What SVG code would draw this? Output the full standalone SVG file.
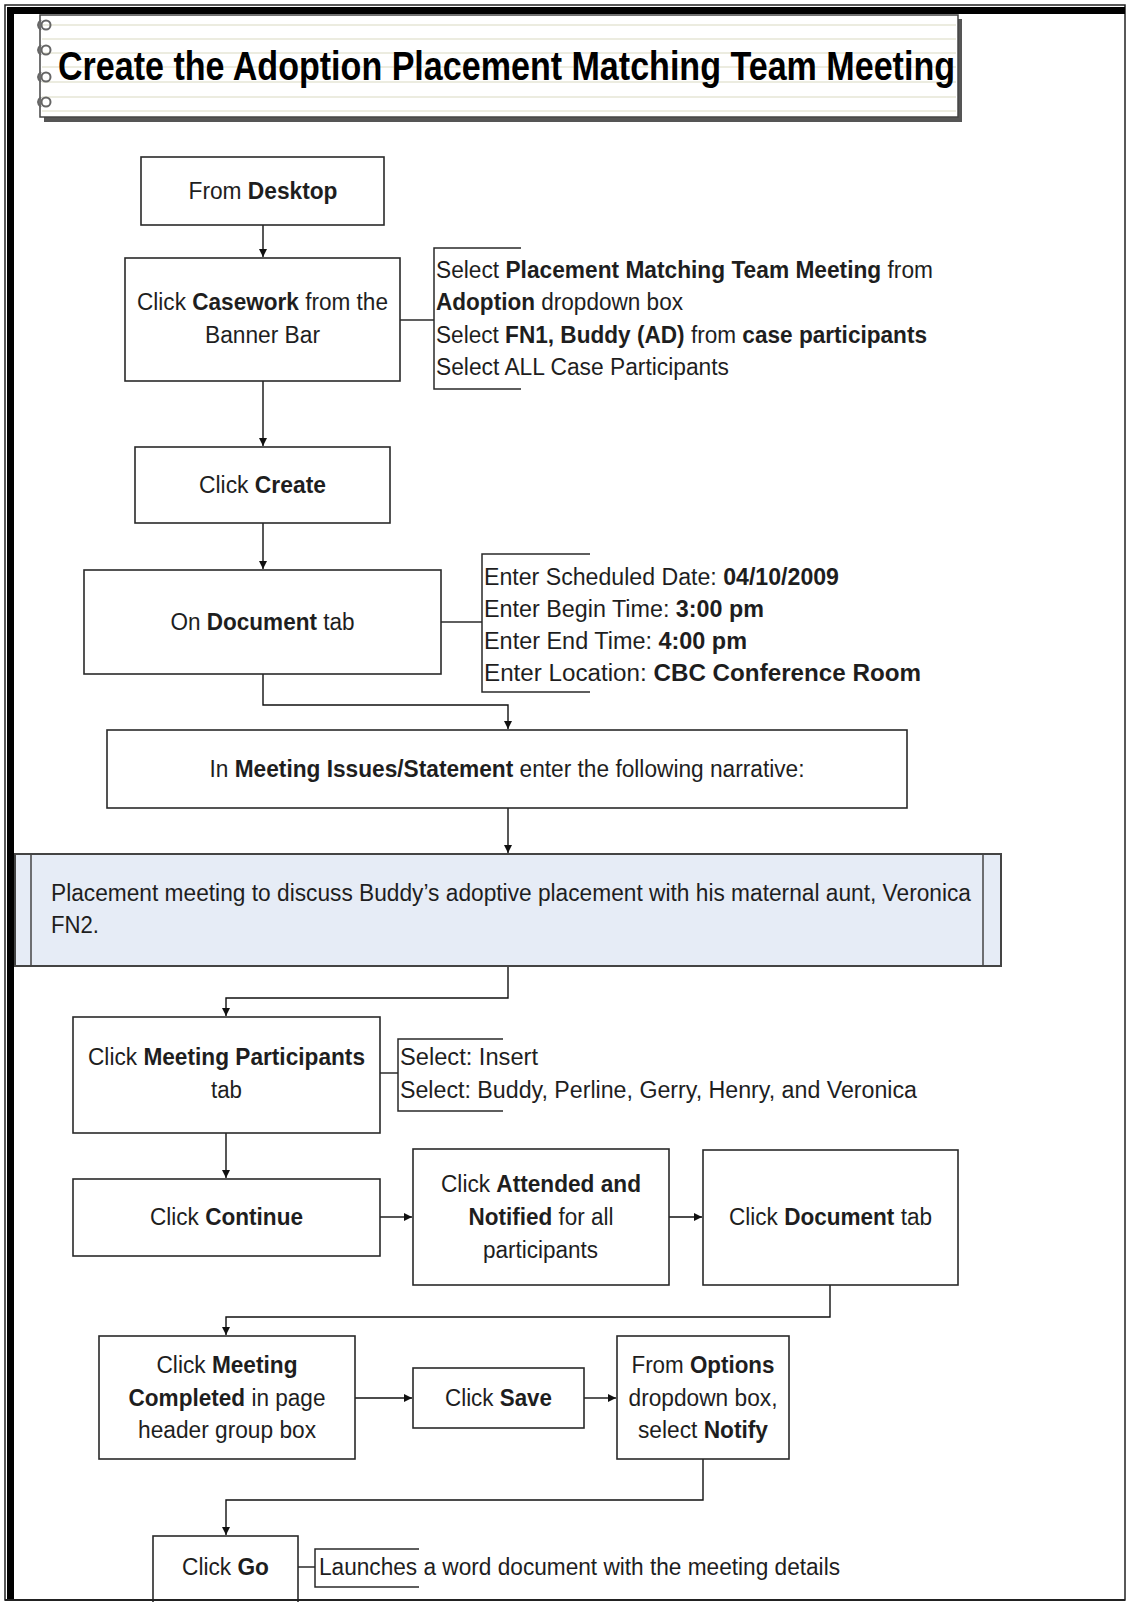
<svg xmlns="http://www.w3.org/2000/svg" width="1128" height="1602" viewBox="0 0 1128 1602">
<defs>
<style>
.box{fill:#fff;stroke:#2a2a2a;stroke-width:1.6}
.t{font-family:"Liberation Sans",Arial,sans-serif;font-size:23px;fill:#1e1e1e}
.b{font-weight:bold}
.c{fill:none;stroke:#111;stroke-width:1.4}
.br{fill:none;stroke:#2a2a2a;stroke-width:1.5}
.pl{stroke:#e6e6d6;stroke-width:1.5}
.ring{fill:none;stroke:#666;stroke-width:2}
</style>
<marker id="ah" viewBox="0 0 10 10" refX="10" refY="5" markerWidth="8" markerHeight="8" markerUnits="userSpaceOnUse" orient="auto">
<path d="M0,0 L10,5 L0,10 z" fill="#111"/>
</marker>
</defs>
<rect x="0" y="0" width="1128" height="1602" fill="#fff"/>
<g id="frame">
<rect x="5" y="5" width="1120" height="1595" fill="none" stroke="#222" stroke-width="1.5"/>
<rect x="7" y="7" width="1118" height="7" fill="#000"/>
<rect x="7" y="7" width="7" height="1593" fill="#000"/>
</g>
<g id="title">
<rect x="44" y="19" width="918" height="103" fill="#555"/>
<rect x="40" y="15" width="918" height="102" fill="#fff" stroke="#444" stroke-width="1.5"/>
<line class="pl" x1="42" y1="25" x2="956" y2="25"/>
<line class="pl" x1="42" y1="39" x2="956" y2="39"/>
<line class="pl" x1="42" y1="53" x2="956" y2="53"/>
<line class="pl" x1="42" y1="67" x2="956" y2="67"/>
<line class="pl" x1="42" y1="82" x2="956" y2="82"/>
<line class="pl" x1="42" y1="97" x2="956" y2="97"/>
<line class="pl" x1="42" y1="111" x2="956" y2="111"/>
<g class="ring">
<circle cx="46" cy="25" r="4.5"/><path d="M41,20 Q35,25 41,30"/>
<circle cx="46" cy="50" r="4.5"/><path d="M41,45 Q35,50 41,55"/>
<circle cx="46" cy="77" r="4.5"/><path d="M41,72 Q35,77 41,82"/>
<circle cx="46" cy="102" r="4.5"/><path d="M41,97 Q35,102 41,107"/>
</g>
<text x="58" y="80" font-family="Liberation Sans,Arial,sans-serif" font-size="41" font-weight="bold" fill="#000" textLength="897" lengthAdjust="spacingAndGlyphs">Create the Adoption Placement Matching Team Meeting</text>
</g>
<g id="connectors">
<path class="c" d="M263,225 V257" marker-end="url(#ah)"/>
<path class="c" d="M263,381 V446" marker-end="url(#ah)"/>
<path class="c" d="M263,523 V569" marker-end="url(#ah)"/>
<path class="c" d="M263,674 V705 H508 V729" marker-end="url(#ah)"/>
<path class="c" d="M508,808 V853" marker-end="url(#ah)"/>
<path class="c" d="M508,966 V998 H226 V1016" marker-end="url(#ah)"/>
<path class="c" d="M226,1133 V1178" marker-end="url(#ah)"/>
<path class="c" d="M380,1217 H412" marker-end="url(#ah)"/>
<path class="c" d="M669,1217 H702" marker-end="url(#ah)"/>
<path class="c" d="M830,1285 V1317 H226 V1335" marker-end="url(#ah)"/>
<path class="c" d="M355,1398 H412" marker-end="url(#ah)"/>
<path class="c" d="M584,1398 H616" marker-end="url(#ah)"/>
<path class="c" d="M703,1459 V1500 H226 V1535" marker-end="url(#ah)"/>
<path class="br" d="M400,320 H434"/>
<path class="br" d="M441,622 H482"/>
<path class="br" d="M380,1073 H398"/>
<path class="br" d="M298,1567 H315"/>
</g>
<g id="n1">
<rect class="box" x="141" y="157" width="243" height="68"/>
<text class="t" x="188.5" y="199" textLength="149" lengthAdjust="spacingAndGlyphs">From <tspan class="b">Desktop</tspan></text>
</g>
<g id="n2">
<rect class="box" x="125" y="258" width="275" height="123"/>
<text class="t" x="137" y="310" textLength="251" lengthAdjust="spacingAndGlyphs">Click <tspan class="b">Casework</tspan> from the</text>
<text class="t" x="205" y="343" textLength="115" lengthAdjust="spacingAndGlyphs">Banner Bar</text>
</g>
<g id="note1">
<path class="br" d="M521,248 H434 V389 H521"/>
<text class="t" x="436" y="278" textLength="497" lengthAdjust="spacingAndGlyphs">Select <tspan class="b">Placement Matching Team Meeting</tspan> from</text>
<text class="t" x="436" y="310" textLength="247" lengthAdjust="spacingAndGlyphs"><tspan class="b">Adoption</tspan> dropdown box</text>
<text class="t" x="436" y="343" textLength="491" lengthAdjust="spacingAndGlyphs">Select <tspan class="b">FN1, Buddy (AD)</tspan> from <tspan class="b">case participants</tspan></text>
<text class="t" x="436" y="375" textLength="293" lengthAdjust="spacingAndGlyphs">Select ALL Case Participants</text>
</g>
<g id="n3">
<rect class="box" x="135" y="447" width="255" height="76"/>
<text class="t" x="199" y="493" textLength="127" lengthAdjust="spacingAndGlyphs">Click <tspan class="b">Create</tspan></text>
</g>
<g id="n4">
<rect class="box" x="84" y="570" width="357" height="104"/>
<text class="t" x="170.5" y="630" textLength="184" lengthAdjust="spacingAndGlyphs">On <tspan class="b">Document</tspan> tab</text>
</g>
<g id="note2">
<path class="br" d="M590,554 H482 V692 H590"/>
<text class="t" x="484" y="585" textLength="355" lengthAdjust="spacingAndGlyphs">Enter Scheduled Date:  <tspan class="b">04/10/2009</tspan></text>
<text class="t" x="484" y="617" textLength="280" lengthAdjust="spacingAndGlyphs">Enter Begin Time:  <tspan class="b">3:00 pm</tspan></text>
<text class="t" x="484" y="649" textLength="263" lengthAdjust="spacingAndGlyphs">Enter End Time:  <tspan class="b">4:00 pm</tspan></text>
<text class="t" x="484" y="681" textLength="437" lengthAdjust="spacingAndGlyphs">Enter Location:  <tspan class="b">CBC Conference Room</tspan></text>
</g>
<g id="n5">
<rect class="box" x="107" y="730" width="800" height="78"/>
<text class="t" x="209.5" y="777" textLength="595" lengthAdjust="spacingAndGlyphs">In <tspan class="b">Meeting Issues/Statement</tspan> enter the following narrative:</text>
</g>
<g id="n6">
<rect x="15" y="854" width="986" height="112" fill="#e6ecf6" stroke="#444" stroke-width="2"/>
<line x1="31" y1="854" x2="31" y2="966" stroke="#444" stroke-width="1.5"/>
<line x1="983" y1="854" x2="983" y2="966" stroke="#444" stroke-width="1.5"/>
<text class="t" x="51" y="901" textLength="920" lengthAdjust="spacingAndGlyphs">Placement meeting to discuss Buddy’s adoptive placement with his maternal aunt, Veronica</text>
<text class="t" x="51" y="933" textLength="48" lengthAdjust="spacingAndGlyphs">FN2.</text>
</g>
<g id="n7">
<rect class="box" x="73" y="1017" width="307" height="116"/>
<text class="t" x="88" y="1065" textLength="277" lengthAdjust="spacingAndGlyphs">Click <tspan class="b">Meeting Participants</tspan></text>
<text class="t" x="211" y="1098" textLength="31" lengthAdjust="spacingAndGlyphs">tab</text>
</g>
<g id="note3">
<path class="br" d="M503,1039 H398 V1111 H503"/>
<text class="t" x="400" y="1065" textLength="138" lengthAdjust="spacingAndGlyphs">Select:  Insert</text>
<text class="t" x="400" y="1098" textLength="517" lengthAdjust="spacingAndGlyphs">Select:  Buddy, Perline, Gerry, Henry, and Veronica</text>
</g>
<g id="n8">
<rect class="box" x="73" y="1179" width="307" height="77"/>
<text class="t" x="150" y="1225" textLength="153" lengthAdjust="spacingAndGlyphs">Click <tspan class="b">Continue</tspan></text>
</g>
<g id="n9">
<rect class="box" x="413" y="1149" width="256" height="136"/>
<text class="t" x="441" y="1192" textLength="200" lengthAdjust="spacingAndGlyphs">Click <tspan class="b">Attended and</tspan></text>
<text class="t" x="468.5" y="1225" textLength="145" lengthAdjust="spacingAndGlyphs"><tspan class="b">Notified</tspan> for all</text>
<text class="t" x="483" y="1258" textLength="115" lengthAdjust="spacingAndGlyphs">participants</text>
</g>
<g id="n10">
<rect class="box" x="703" y="1150" width="255" height="135"/>
<text class="t" x="729" y="1225" textLength="203" lengthAdjust="spacingAndGlyphs">Click <tspan class="b">Document</tspan> tab</text>
</g>
<g id="n11">
<rect class="box" x="99" y="1336" width="256" height="123"/>
<text class="t" x="156.5" y="1373" textLength="141" lengthAdjust="spacingAndGlyphs">Click <tspan class="b">Meeting</tspan></text>
<text class="t" x="128.5" y="1406" textLength="197" lengthAdjust="spacingAndGlyphs"><tspan class="b">Completed</tspan> in page</text>
<text class="t" x="138" y="1438" textLength="178" lengthAdjust="spacingAndGlyphs">header group box</text>
</g>
<g id="n12">
<rect class="box" x="413" y="1368" width="171" height="60"/>
<text class="t" x="445" y="1406" textLength="107" lengthAdjust="spacingAndGlyphs">Click <tspan class="b">Save</tspan></text>
</g>
<g id="n13">
<rect class="box" x="617" y="1336" width="172" height="123"/>
<text class="t" x="631.5" y="1373" textLength="143" lengthAdjust="spacingAndGlyphs">From <tspan class="b">Options</tspan></text>
<text class="t" x="628.5" y="1406" textLength="149" lengthAdjust="spacingAndGlyphs">dropdown box,</text>
<text class="t" x="638" y="1438" textLength="130" lengthAdjust="spacingAndGlyphs">select <tspan class="b">Notify</tspan></text>
</g>
<g id="n14">
<rect class="box" x="153" y="1536" width="145" height="70"/>
<text class="t" x="182" y="1575" textLength="87" lengthAdjust="spacingAndGlyphs">Click <tspan class="b">Go</tspan></text>
</g>
<g id="note4">
<path class="br" d="M419,1549 H315 V1587 H419"/>
<text class="t" x="319" y="1575" textLength="521" lengthAdjust="spacingAndGlyphs">Launches a word document with the meeting details</text>
</g>
<line x1="5" y1="1600" x2="1125" y2="1600" stroke="#222" stroke-width="2"/>
</svg>
